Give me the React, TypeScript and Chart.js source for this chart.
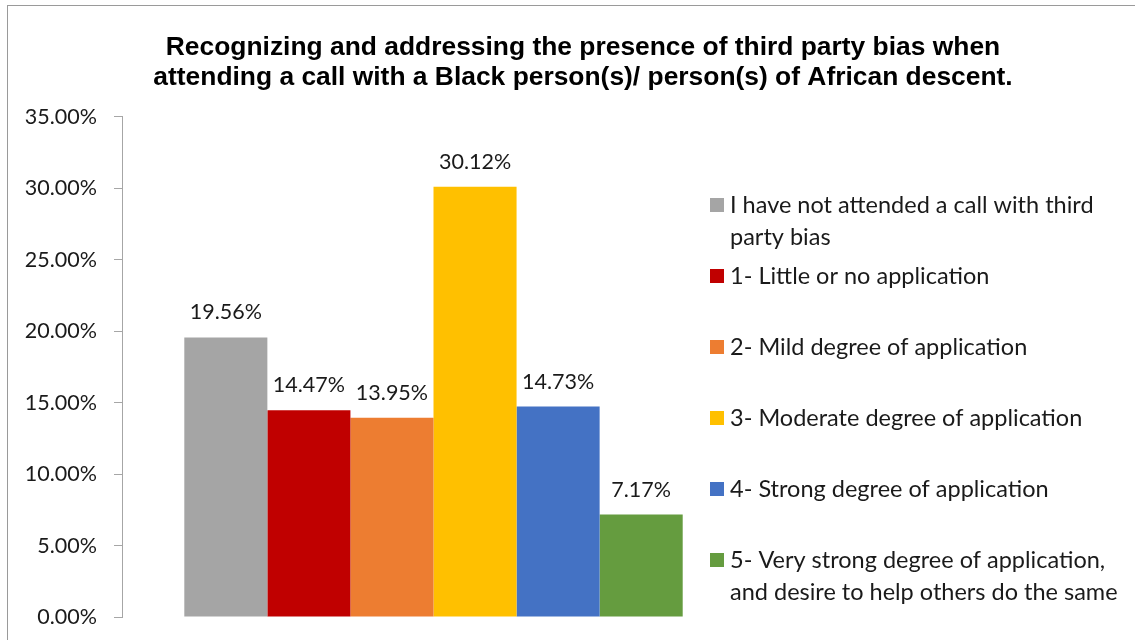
import React, { useEffect, useRef } from "react";
import { Chart, registerables } from "chart.js";

Chart.register(...registerables);

const titleLines = [
  "Recognizing and addressing the presence of third party bias when",
  "attending a call with a Black person(s)/ person(s) of African descent.",
];
const categories = [""];
const seriesNames = [
  "I have not attended a call with third party bias",
  "1- Little or no application",
  "2- Mild degree of application",
  "3- Moderate degree of application",
  "4- Strong degree of application",
  "5- Very strong degree of application, and desire to help others do the same",
];
const legendLines = [
  ["I have not attended a call with third", "party bias"],
  ["1- Little or no application"],
  ["2- Mild degree of application"],
  ["3- Moderate degree of application"],
  ["4- Strong degree of application"],
  ["5- Very strong degree of application,", "and desire to help others do the same"],
];
const values = [19.56, 14.47, 13.95, 30.12, 14.73, 7.17];
const colors = ["#A5A5A5", "#C00000", "#ED7D31", "#FFC000", "#4472C4", "#659C3F"];
const yMin = 0;
const yMax = 35;
const yStep = 5;

const fmt = (v: number) => v.toFixed(2) + "%";
const FONT = "Lato, 'Noto Sans', sans-serif";
const TEXT = "#1a1a1a";
const AXIS = "#a6a6a6";

const valueLabels = {
  id: "valueLabels",
  afterDatasetsDraw(chart: any) {
    const ctx = chart.ctx;
    ctx.save();
    ctx.font = `21.5px ${FONT}`;
    ctx.fillStyle = TEXT;
    ctx.textAlign = "center";
    ctx.textBaseline = "middle";
    chart.data.datasets.forEach((ds: any, i: number) => {
      const meta = chart.getDatasetMeta(i);
      const bar = meta.data[0];
      if (!bar) return;
      ctx.fillText(fmt(ds.data[0]), bar.x, bar.y - 25);
    });
    ctx.restore();
  },
};

const sideLegend = {
  id: "sideLegend",
  afterDraw(chart: any) {
    const ctx = chart.ctx;
    const left = chart.chartArea.right - 35;
    const top = 199;
    const step = 71;
    const lineH = 32;
    ctx.save();
    ctx.font = `23.5px ${FONT}`;
    ctx.textAlign = "left";
    ctx.textBaseline = "middle";
    chart.data.datasets.forEach((ds: any, i: number) => {
      const y = top + i * step;
      ctx.fillStyle = ds.backgroundColor;
      ctx.fillRect(left, y - 7, 14, 14);
      ctx.fillStyle = TEXT;
      legendLines[i].forEach((line, j) => {
        ctx.fillText(line, left + 20, y + j * lineH);
      });
    });
    ctx.restore();
  },
};

export default function App() {
  const ref = useRef<HTMLCanvasElement>(null);
  useEffect(() => {
    if (!ref.current) return;
    const chart = new Chart(ref.current, {
      type: "bar",
      data: {
        labels: categories,
        datasets: seriesNames.map((name, i) => ({
          label: name,
          data: [values[i]],
          backgroundColor: colors[i],
          borderWidth: 0,
          categoryPercentage: 0.8,
          barPercentage: 1.0,
        })),
      },
      options: {
        responsive: false,
        animation: false,
        devicePixelRatio: 1,
        layout: { padding: { left: 0, right: 0, top: 0, bottom: 49 } },
        plugins: {
          legend: { display: false },
          tooltip: { enabled: false },
          title: {
            display: true,
            text: titleLines,
            color: "#000",
            font: { family: "'Liberation Sans', Arial, sans-serif", size: 26.4, weight: "bold", lineHeight: 1.136 },
            padding: { top: 27, bottom: 24 },
          },
        },
        scales: {
          x: { display: false },
          y: {
            min: yMin,
            max: yMax,
            ticks: {
              stepSize: yStep,
              callback: (v: any) => fmt(Number(v)),
              color: TEXT,
              font: { family: FONT, size: 21.5 },
              padding: 17,
            },
            grid: { drawOnChartArea: false, drawTicks: true, tickLength: 8, color: AXIS },
            border: { display: true, color: AXIS },
            afterFit: (scale: any) => {
              scale.width = 114;
            },
          },
          legendSpace: {
            type: "linear",
            axis: "y",
            position: "right",
            display: true,
            min: yMin,
            max: yMax,
            grid: { display: false, drawTicks: false },
            ticks: { display: false },
            border: { display: false },
            afterFit: (scale: any) => {
              scale.width = 413;
            },
          },
        },
      },
      plugins: [valueLabels, sideLegend],
    });
    return () => chart.destroy();
  }, []);

  return (
    <div style={{ position: "fixed", left: 0, top: 0, width: 1135, height: 640, overflow: "hidden", background: "#fff" }}>
      <div style={{ position: "absolute", left: 7, top: 5, width: 1150, height: 660, border: "1px solid #9a9a9a" }}>
        <canvas ref={ref} width={1150} height={660} style={{ display: "block" }} />
      </div>
    </div>
  );
}
